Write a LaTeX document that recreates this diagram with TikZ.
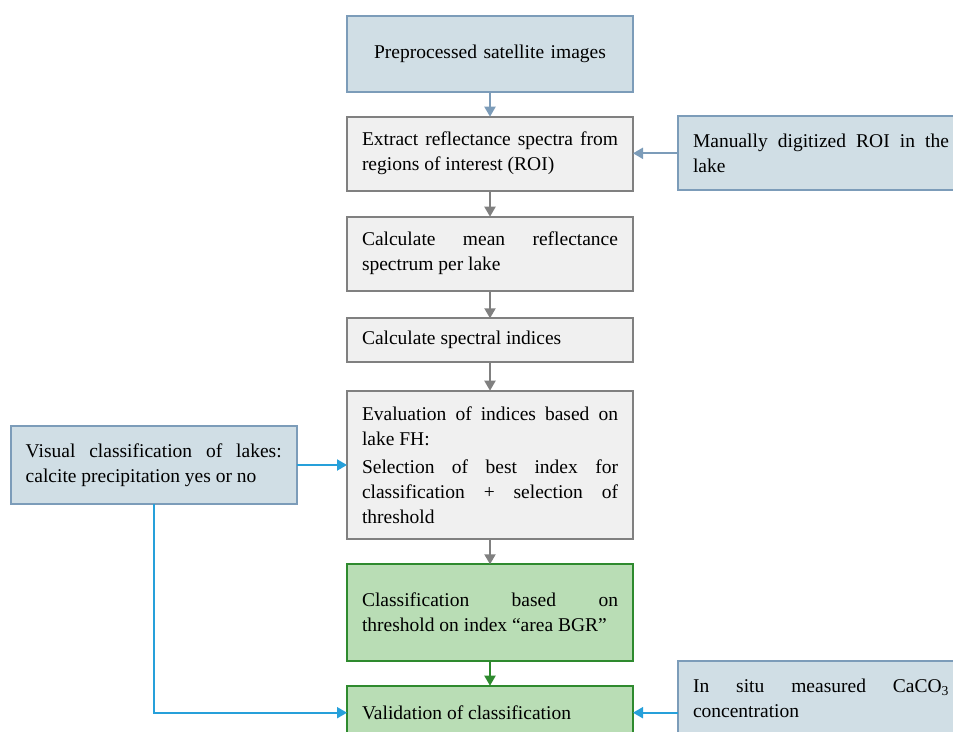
\documentclass[tikz,border=0pt]{standalone}
\usepackage{fontspec}
\setmainfont{Liberation Serif}
\usetikzlibrary{arrows.meta}

\definecolor{infill}{RGB}{208,222,229}
\definecolor{inline}{RGB}{124,156,185}
\definecolor{workfill}{RGB}{240,240,240}
\definecolor{workline}{RGB}{128,128,128}
\definecolor{resfill}{RGB}{185,221,181}
\definecolor{resline}{RGB}{46,138,46}
\definecolor{blueline}{RGB}{38,160,218}
\newcommand{\nohyph}{\hyphenpenalty=10000\relax\exhyphenpenalty=10000\relax}

\begin{document}
\begin{tikzpicture}[x=1pt,y=-1pt,
    every node/.style={rectangle, anchor=north west, line width=2pt, outer sep=0pt,
        inner xsep=15pt, inner ysep=0pt, text width=256pt, align=justify,
        font=\fontsize{19.5}{25}\selectfont\nohyph},
    inbox/.style={draw=inline, fill=infill},
    workbox/.style={draw=workline, fill=workfill},
    resbox/.style={draw=resline, fill=resfill},
    flow/.style={line width=2pt, -{Triangle[width=11pt,length=10pt]}}]
    \useasboundingbox (0,0) rectangle (953,731);
    % main chain
    \node[inbox, align=center, minimum height=76pt] (pre) at (347,15.5) {Preprocessed satellite images};
    \node[workbox, minimum height=74pt] (ext) at (347,116.7) {Extract reflectance spectra from\linebreak regions of interest (ROI)};
    \node[workbox, minimum height=74pt] (mean) at (347,216.7) {Calculate mean reflectance\linebreak spectrum per lake};
    \node[workbox, minimum height=43.4pt] (idx) at (347,318.3) {Calculate spectral indices};
    \node[workbox, minimum height=148.6pt] (eval) at (347,390.7) {Evaluation of indices based on\linebreak lake FH:\\[3pt]
        Selection of best index for\linebreak classification + selection of\linebreak threshold};
    \node[resbox, minimum height=96.4pt] (cls) at (347,564.3) {Classification based on\linebreak threshold on index ``area BGR''};
    \node[resbox, minimum height=54pt] (val) at (347,685.7) {Validation of classification};
    % inputs
    \node[inbox, minimum height=74pt] (roi) at (678,116.3) {Manually digitized ROI in the\linebreak lake};
    \node[inbox, minimum height=78pt] (vis) at (10.7,426) {Visual classification of lakes:\linebreak calcite precipitation yes or no};
    \node[inbox, minimum height=76pt] (situ) at (678,660.7) {In situ measured CaCO\textsubscript{3}\linebreak concentration};
    % connectors
    \draw[flow, inline] (pre) -- (ext);
    \draw[flow, workline] (ext) -- (mean);
    \draw[flow, workline] (mean) -- (idx);
    \draw[flow, workline] (idx) -- (eval);
    \draw[flow, workline] (eval) -- (cls);
    \draw[flow, resline] (cls) -- (val);
    \draw[flow, inline] (roi.west) -- (roi.west -| ext.east);
    \draw[flow, blueline] (vis.east) -- (vis.east -| eval.west);
    \draw[flow, blueline] (vis.south) |- (val.west);
    \draw[flow, blueline] (situ.west |- val.east) -- (val.east);
\end{tikzpicture}
\end{document}
